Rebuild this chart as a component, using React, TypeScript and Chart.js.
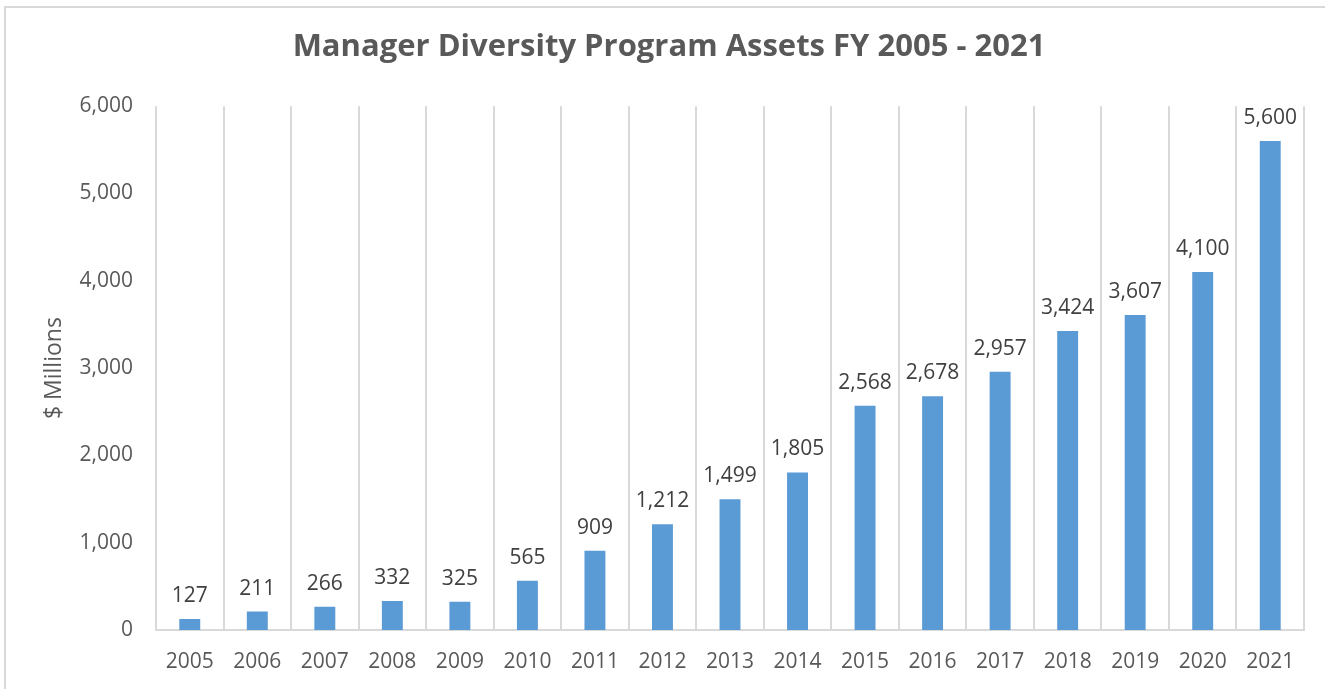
import React, { useEffect, useRef } from "react";
import { Chart, registerables } from "chart.js";

Chart.register(...registerables);

const years = ["2005","2006","2007","2008","2009","2010","2011","2012","2013","2014","2015","2016","2017","2018","2019","2020","2021"];
const assets = [127, 211, 266, 332, 325, 565, 909, 1212, 1499, 1805, 2568, 2678, 2957, 3424, 3607, 4100, 5600];
const titleText = "Manager Diversity Program Assets FY 2005 - 2021";
const yAxisTitle = "$ Millions";

const FONT = "'Open Sans', 'Liberation Sans', sans-serif";

const dataLabels = {
  id: "dataLabels",
  afterDatasetsDraw(chart: any) {
    const ctx = chart.ctx;
    const meta = chart.getDatasetMeta(0);
    ctx.save();
    ctx.font = `21px ${FONT}`;
    ctx.fillStyle = "#404040";
    ctx.textAlign = "center";
    ctx.textBaseline = "alphabetic";
    meta.data.forEach((bar: any, i: number) => {
      const v = assets[i];
      ctx.fillText(v.toLocaleString("en-US"), bar.x, bar.y - 17);
    });
    ctx.restore();
  },
};

export default function App() {
  const ref = useRef<HTMLCanvasElement>(null);
  useEffect(() => {
    if (!ref.current) return;
    const chart = new Chart(ref.current, {
      type: "bar",
      data: {
        labels: years,
        datasets: [
          {
            data: assets,
            backgroundColor: "#5b9bd5",
            barPercentage: 0.31,
            categoryPercentage: 1,
          },
        ],
      },
      options: {
        animation: false,
        responsive: false,
        layout: { padding: { left: 34, right: 21, top: 0, bottom: 0 } },
        plugins: {
          legend: { display: false },
          tooltip: { enabled: false },
          title: {
            display: true,
            text: titleText,
            color: "#595959",
            font: { family: FONT, size: 31, weight: "bold" },
            padding: { top: 29, bottom: 40 },
          },
        },
        scales: {
          x: {
            offset: true,
            grid: { display: true, offset: true, color: "#d9d9d9", lineWidth: 2, drawTicks: false },
            border: { display: true, color: "#d9d9d9", width: 2 },
            ticks: { color: "#595959", font: { family: FONT, size: 21 }, padding: 19, maxRotation: 0, autoSkip: false },
            afterFit: (s: any) => { s.height = 59; },
          },
          y: {
            min: 0,
            max: 6000,
            ticks: {
              stepSize: 1000,
              color: "#595959",
              font: { family: FONT, size: 21 },
              padding: 23,
              callback: (v: any) => Number(v).toLocaleString("en-US"),
            },
            grid: { display: false, drawTicks: false },
            border: { display: false },
            title: {
              display: true,
              text: yAxisTitle,
              color: "#595959",
              font: { family: FONT, size: 23 },
              padding: { top: 7, bottom: 0 },
            },
            afterFit: (s: any) => { s.width = 122; },
          },
        },
      },
      plugins: [dataLabels],
    });
    return () => chart.destroy();
  }, []);
  return (
    <div style={{ position: "fixed", left: 0, top: 0, width: 1325, height: 689, overflow: "hidden", background: "#fff" }}>
      <div style={{ position: "absolute", left: 4, top: 6, width: 1340, height: 700, border: "2px solid #d9d9d9", boxSizing: "border-box" }} />
      <canvas ref={ref} width={1325} height={689} style={{ position: "absolute", left: 0, top: 0 }} />
    </div>
  );
}
